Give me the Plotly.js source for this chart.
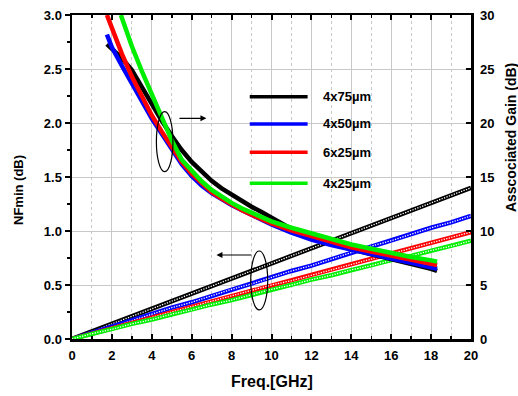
<!DOCTYPE html>
<html>
<head>
<meta charset="utf-8">
<script src="https://cdn.plot.ly/plotly-3.0.1.min.js"></script>
<style>html,body{margin:0;padding:0;background:#fff;}#chart{width:518px;height:396px;}</style>
</head>
<body>
<div id="chart"></div>
<script>
// ---- Data ----
var seriesNames = ["4x75\u00b5m", "4x50\u00b5m", "6x25\u00b5m", "4x25\u00b5m"];

// NFmin (dB), left axis
var nfFreq = [0,1,2,3,4,5,6,7,8,9,10,11,12,13,14,15,16,17,18,19,20];
var nf4x75 = [0,0.07,0.14,0.21,0.28,0.35,0.42,0.49,0.56,0.63,0.70,0.77,0.84,0.91,0.98,1.05,1.12,1.19,1.26,1.33,1.40];
var nf4x50 = [0,0.06,0.11,0.17,0.23,0.29,0.34,0.40,0.46,0.51,0.57,0.63,0.68,0.74,0.80,0.86,0.91,0.97,1.03,1.08,1.14];
var nf6x25 = [0,0.05,0.10,0.15,0.20,0.25,0.30,0.35,0.40,0.45,0.50,0.54,0.59,0.64,0.69,0.74,0.79,0.84,0.89,0.94,0.99];
var nf4x25 = [0,0.05,0.09,0.14,0.18,0.23,0.27,0.32,0.36,0.41,0.46,0.50,0.55,0.59,0.64,0.68,0.73,0.77,0.82,0.86,0.91];

// Associated gain (dB), right axis
var gainFreq = [1.75,2.0,2.5,3.0,3.5,4.0,4.5,5.0,5.5,6.0,6.5,7.0,7.5,8.0,8.5,9.0,9.5,10,11,12,13,14,15,16,17,18,18.3];
var gain4x75 = [27.3,26.9,26.0,24.9,23.3,21.7,20.2,18.8,17.5,16.4,15.5,14.65,13.95,13.35,12.8,12.25,11.75,11.2,10.2,9.35,8.8,8.3,7.85,7.4,7.0,6.5,6.3];
var gain4x50 = [28.2,27.0,25.3,23.6,22.0,20.4,19.0,17.6,16.2,15.1,14.2,13.5,12.9,12.4,11.95,11.5,11.1,10.6,9.85,9.2,8.7,8.25,7.85,7.45,7.05,6.65,6.5];
var gain6x25 = [30.0,28.7,26.4,24.3,22.4,20.7,19.2,17.8,16.4,15.3,14.4,13.6,13.0,12.45,11.95,11.5,11.1,10.7,10.05,9.5,8.95,8.5,8.1,7.7,7.35,7.0,6.85];
var gainFreqG = [2.45,3.0,3.5,4.0,4.5,5.0,5.5,6.0,6.5,7.0,7.5,8.0,8.5,9.0,9.5,10,11,12,13,14,15,16,17,18,18.3];
var gain4x25 = [30.0,27.1,24.8,22.6,20.6,18.4,16.6,15.6,14.6,13.8,13.15,12.6,12.1,11.7,11.3,10.9,10.3,9.75,9.25,8.75,8.35,7.95,7.6,7.28,7.16];

var colors = ["#000000", "#0000ff", "#ff0000", "#00ee00"];
var xTickVals = [0,2,4,6,8,10,12,14,16,18,20];
var yTickVals = [0,0.5,1.0,1.5,2.0,2.5,3.0];
var y2TickVals = [0,5,10,15,20,25,30];

// ---- Build traces ----
var traces = [];
var nfSets = [nf4x75, nf4x50, nf6x25, nf4x25];
nfSets.forEach(function(v, i){
  traces.push({x: nfFreq, y: v, mode: 'lines', yaxis: 'y', showlegend: false, hoverinfo: 'skip',
    line: {color: colors[i], width: 4.5}});
  traces.push({x: nfFreq, y: v, mode: 'lines', yaxis: 'y', showlegend: false, hoverinfo: 'skip',
    line: {color: '#ffffff', width: 1.3, dash: '1.3px,1.3px'}});
});
var gainSets = [[gainFreq, gain4x75],[gainFreq, gain4x50],[gainFreq, gain6x25],[gainFreqG, gain4x25]];
gainSets.forEach(function(s, i){
  traces.push({x: s[0], y: s[1], mode: 'lines', yaxis: 'y2', name: seriesNames[i], showlegend: false,
    line: {color: colors[i], width: 4.5}});
});

var F = 'Liberation Sans, Arial, sans-serif';
var tickFont = {family: F, size: 13, color: '#000', weight: 'bold'};

// Legend drawn as shapes + annotations (positions in NF axis coordinates)
var legY = [2.244, 1.991, 1.729, 1.442];
var shapes = [];
var annotations = [];
legY.forEach(function(yy, i){
  shapes.push({type: 'line', xref: 'x', yref: 'y', x0: 8.91, x1: 11.81, y0: yy, y1: yy,
    line: {color: colors[i], width: 3.5}});
  annotations.push({xref: 'x', yref: 'y', x: 12.5, y: yy, xanchor: 'left', yanchor: 'middle',
    text: seriesNames[i], showarrow: false, font: {family: F, size: 13, color: '#000', weight: 'bold'}});
});
// Ellipses
shapes.push({type: 'circle', xref: 'x', yref: 'y', x0: 4.23, x1: 5.06, y0: 1.549, y1: 2.105,
  line: {color: '#000', width: 1.2}});
shapes.push({type: 'circle', xref: 'x', yref: 'y', x0: 8.96, x1: 9.81, y0: 0.269, y1: 0.815,
  line: {color: '#000', width: 1.2}});
// Arrows
annotations.push({xref: 'x', yref: 'y', axref: 'x', ayref: 'y', x: 6.74, y: 2.043, ax: 5.31, ay: 2.043,
  text: '', showarrow: true, arrowhead: 2, arrowsize: 1, arrowwidth: 1.2, arrowcolor: '#000'});
annotations.push({xref: 'x', yref: 'y', axref: 'x', ayref: 'y', x: 7.24, y: 0.778, ax: 9.07, ay: 0.778,
  text: '', showarrow: true, arrowhead: 2, arrowsize: 1, arrowwidth: 1.2, arrowcolor: '#000'});
// Axis titles
annotations.push({xref: 'paper', yref: 'paper', x: 0.5, y: 0, yshift: -32, xanchor: 'center', yanchor: 'top',
  text: 'Freq.[GHz]', showarrow: false, font: {family: F, size: 16, color: '#000', weight: 'bold'}});
annotations.push({xref: 'paper', yref: 'paper', x: 0, y: 0.46, xshift: -53, xanchor: 'center', yanchor: 'middle',
  text: 'NFmin (dB)', textangle: -90, showarrow: false, font: {family: F, size: 13, color: '#000', weight: 'bold'}});
annotations.push({xref: 'paper', yref: 'paper', x: 1, y: 0.62, xshift: 40, xanchor: 'center', yanchor: 'middle',
  text: 'Asscociated Gain (dB)', textangle: -90, showarrow: false, font: {family: F, size: 14, color: '#000', weight: 'bold'}});

var layout = {
  width: 518, height: 396,
  margin: {l: 72, r: 47, t: 15, b: 57},
  paper_bgcolor: '#ffffff', plot_bgcolor: '#ffffff',
  showlegend: false,
  xaxis: {
    range: [0, 20], tickvals: xTickVals, ticktext: xTickVals.map(String),
    showgrid: true, gridcolor: '#c8c8c8', gridwidth: 1,
    showline: true, linecolor: '#000', linewidth: 2.5, mirror: 'ticks',
    ticks: 'inside', ticklen: 5, tickwidth: 2, tickcolor: '#000',
    minor: {dtick: 1, showgrid: true, gridcolor: '#c8c8c8', griddash: 'dot', gridwidth: 1, ticks: 'inside', ticklen: 3, tickwidth: 1.5, tickcolor: '#000'},
    tickfont: tickFont, ticklabelstandoff: 3, zeroline: false, fixedrange: true
  },
  yaxis: {
    range: [0, 3], tickvals: yTickVals, ticktext: yTickVals.map(function(v){return v.toFixed(1);}),
    showgrid: true, gridcolor: '#c8c8c8', gridwidth: 1,
    showline: true, linecolor: '#000', linewidth: 2.5,
    ticks: 'outside', ticklen: 5, tickwidth: 2, tickcolor: '#000',
    minor: {dtick: 0.25, showgrid: false, ticks: 'outside', ticklen: 3, tickwidth: 1.5, tickcolor: '#000'},
    tickfont: tickFont, zeroline: false, fixedrange: true
  },
  yaxis2: {
    range: [0, 30], tickvals: y2TickVals, ticktext: y2TickVals.map(String),
    overlaying: 'y', side: 'right', showgrid: false,
    showline: true, linecolor: '#000', linewidth: 2.5,
    ticks: 'inside', ticklen: 5, tickwidth: 2, tickcolor: '#000',
    tickfont: tickFont, ticklabelstandoff: 4, zeroline: false, fixedrange: true
  },
  shapes: shapes,
  annotations: annotations
};

Plotly.newPlot('chart', traces, layout, {staticPlot: true, displayModeBar: false});
</script>
</body>
</html>
